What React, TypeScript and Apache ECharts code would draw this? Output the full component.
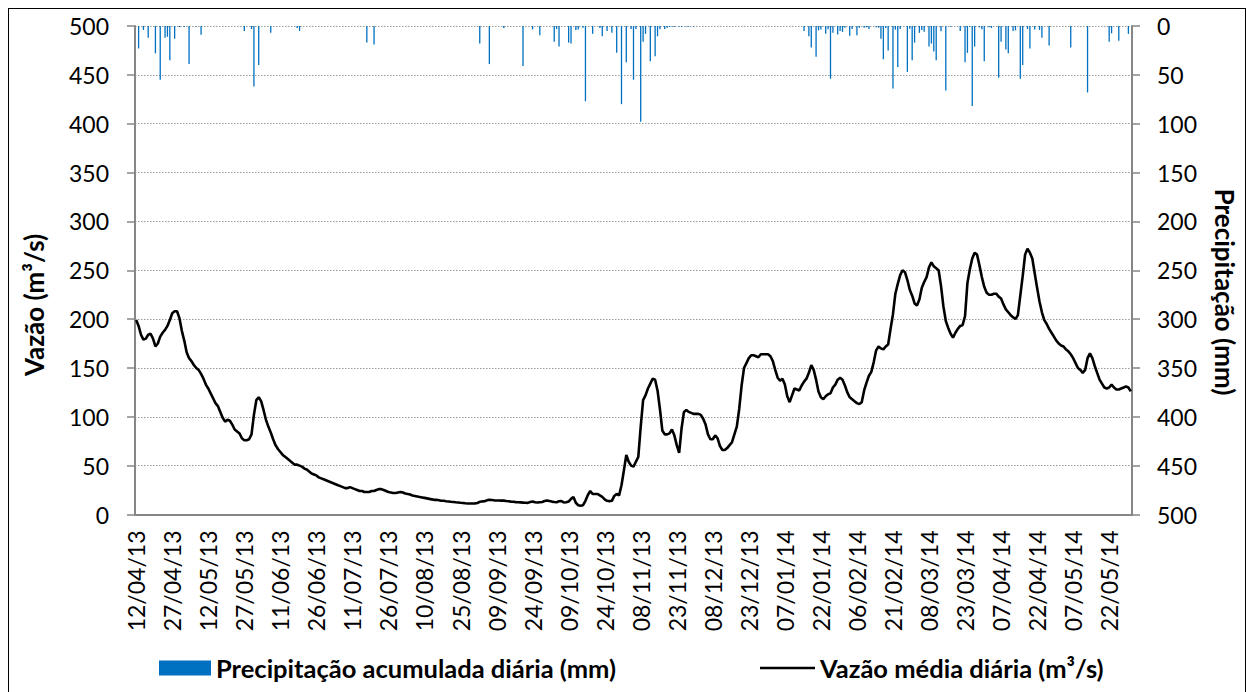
import React, { useEffect, useRef } from "react";
import * as echarts from "echarts";

// Daily series from 12/04/2013 to 31/05/2014 (415 days)
const START_DATE = Date.UTC(2013, 3, 12);
const DAY_COUNT = 415;

const P_NAME = "Precipitação acumulada diária (mm)";
const V_NAME = "Vazão média diária (m³/s)";

// Vazão média diária (m³/s) — one row per 15 days
const vazao: number[] = [
  199, 193, 184, 179, 180, 184, 185, 180, 172, 175, 182, 186, 189, 193, 199,
  206, 208, 208, 201, 188, 178, 166, 160, 157, 153, 150, 148, 144, 139, 133,
  129, 124, 119, 114, 111, 105, 99, 95, 97, 96, 92, 87, 85, 83, 78,
  76, 76, 77, 82, 102, 117, 120, 116, 107, 97, 90, 84, 77, 71, 67,
  64, 61, 59, 57, 55, 53, 51, 51, 50, 49, 47, 46, 44, 42, 41,
  40, 38, 37, 36, 35, 34, 33, 32, 31, 30, 29, 28, 27, 27, 28,
  27, 26, 25, 24, 24, 23, 23, 23, 24, 24, 25, 26, 26, 25, 24,
  23, 22.5, 22, 22, 22.5, 23, 22.5, 21.5, 21, 20.5, 19.5, 19, 18.5, 18, 17.5,
  17, 16.5, 16, 15.5, 15, 15, 14.5, 14, 14, 13.5, 13.3, 13, 12.8, 12.5, 12.3,
  12, 11.8, 11.5, 11.3, 11.2, 11.2, 11.4, 11.8, 13, 13.4, 13.5, 14.5, 15, 14.8, 14.5,
  14.3, 14.4, 14.2, 14.2, 13.8, 13.5, 13.2, 13, 12.7, 12.5, 12.4, 12.2, 12, 11.9, 12.8,
  13.3, 12.5, 12.2, 12.6, 12.8, 13.8, 14.3, 13.8, 13.2, 12.8, 12.6, 13.5, 13.8, 12.3, 12.5,
  13.3, 16, 18, 12, 9.5, 9, 9.5, 14, 20, 24, 21, 21, 21, 19.5, 18,
  15.5, 14, 13.7, 14, 19, 21, 19.5, 30, 45, 61, 54, 50, 49, 54, 59,
  90, 117, 122, 129, 134, 139, 138, 127, 108, 86, 82, 82, 83, 87, 81,
  71, 63, 88, 105, 107, 105, 104, 103, 103, 103, 102, 98, 92, 82, 77,
  77, 81, 78, 70, 66, 66, 68, 71, 74, 82, 90, 108, 132, 150, 155,
  160, 163, 163, 162, 161, 164, 164, 164, 164, 162, 157, 148, 140, 137, 139,
  133, 121, 115, 122, 129, 128, 127, 132, 136, 139, 145, 153, 148, 138, 126,
  120, 118, 121, 123, 124, 130, 133, 138, 140, 138, 132, 125, 120, 118, 116,
  114, 113, 115, 127, 135, 142, 146, 156, 168, 172, 170, 169, 172, 174, 190,
  205, 226, 236, 245, 250, 248, 240, 230, 224, 216, 214, 220, 232, 238, 243,
  253, 258, 254, 252, 250, 234, 213, 198, 191, 185, 181, 186, 190, 193, 194,
  203, 237, 251, 262, 268, 266, 255, 243, 233, 227, 225, 225, 226, 226, 223,
  221, 215, 210, 207, 204, 202, 200, 204, 224, 244, 266, 272, 268, 262, 247,
  232, 218, 207, 199, 195, 190, 186, 182, 178, 175, 173, 172, 169, 167, 164,
  160, 155, 150, 148, 145, 148, 160, 165, 160, 152, 145, 138, 134, 130, 129,
  130, 133, 130, 128, 128, 129, 130, 131, 130, 126,
];

// Precipitação acumulada diária (mm) — one row per 15 days
const precipitacao: number[] = [
  0, 23, 0, 4, 0, 12, 0, 0, 28, 0, 55, 0, 12, 11, 35,
  0, 13, 0, 1, 0, 1, 0, 39, 0, 0, 0.5, 0, 9, 0, 0,
  0, 0, 0, 0, 0, 0, 0, 0, 0, 0, 0, 0, 0, 0, 0,
  5, 0, 0, 3, 62, 0, 40, 0, 0, 0, 0, 7, 0, 0, 0,
  0, 0, 0, 0, 0, 0, 0, 2, 5, 0, 0, 0, 0, 0, 0,
  0, 0, 0, 0, 0, 0, 0, 0, 0, 0, 0, 0, 0, 0, 0,
  0, 0, 0, 0, 0, 0, 17, 0, 0, 19, 0, 0, 0, 0, 0,
  0, 0, 0, 0, 0, 0, 0, 0, 0, 0, 0, 0, 0, 0, 0,
  0, 0, 0, 0, 0, 0, 0, 0, 0, 0, 0, 0, 0, 0, 0,
  0, 0, 0, 0, 0, 0, 0, 0, 18, 0, 0, 0, 39, 0, 0,
  0, 0, 0, 2, 0, 0, 0, 0, 0, 0, 0, 41, 0, 0, 0,
  3.4, 0, 0, 9.5, 0, 0, 0, 0, 0, 16, 3, 21, 0, 0, 0,
  17, 18, 0, 4, 3.7, 0, 1.7, 77, 0, 0, 8, 0, 0, 2, 10.5,
  0, 5, 0, 7, 0, 27.5, 0, 80, 0, 37, 0, 3, 55, 3, 0,
  98, 16, 8, 0, 36, 0, 31, 10.5, 3.4, 0, 3, 1.7, 1, 0.5, 0.8,
  0, 0.6, 1, 0, 0.5, 0.8, 0, 0.5, 0, 0, 0, 0, 0, 0, 0,
  0, 0, 0, 0, 0, 0, 0, 0, 0, 0, 0, 0, 0, 0, 0,
  0, 0, 0, 0, 0, 0, 0, 0, 0, 0, 0, 0, 0, 0, 0,
  0, 0, 0, 0, 0, 0, 0, 0, 5, 0, 10.5, 22, 0, 31.6, 4.4,
  3.7, 0, 8, 3.4, 54, 7, 0, 8.8, 5, 6, 1.7, 0, 10, 3, 0,
  9.5, 1.7, 0, 1.7, 1.4, 3, 0, 0, 1.4, 1.7, 13, 34, 2, 25, 0,
  64, 3.7, 42, 3, 0, 0, 47, 2.7, 35, 17, 0, 7, 4, 6, 0,
  21, 18, 26, 35, 0, 5.4, 0, 66, 0, 0.7, 0, 0, 0, 5, 0,
  37, 27.5, 0.7, 82, 21, 0, 1.4, 3.4, 36, 0, 1.4, 2, 0, 0, 53,
  16, 0, 24, 28, 0, 5, 4.4, 0, 54, 40, 0, 3, 23, 0, 3.7,
  0, 4, 12, 0, 0, 20, 0, 0, 0, 0, 0, 0, 0, 0, 22,
  0, 0, 0, 0, 0, 0, 68, 0, 0, 0, 0, 0, 0, 0, 0,
  16, 7.5, 0, 0, 15, 0, 0, 0, 8, 0,
];

const pad = (n: number) => (n < 10 ? "0" + n : "" + n);
const categories: string[] = Array.from({ length: DAY_COUNT }, (_, i) => {
  const d = new Date(START_DATE + i * 86400000);
  return `${pad(d.getUTCDate())}/${pad(d.getUTCMonth() + 1)}/${pad(d.getUTCFullYear() % 100)}`;
});

const FONT = "Lato";
const AXIS_GRAY = "#868686";

export default function App() {
  const ref = useRef<HTMLDivElement>(null);

  useEffect(() => {
    if (!ref.current) return;
    const chart = echarts.init(ref.current, undefined, { renderer: "svg" });
    const labelStyle = { fontFamily: FONT, fontSize: 23, color: "#000" };
    const legendText = { fontFamily: FONT, fontSize: 25.5, fontWeight: "bold", color: "#000" };
    chart.setOption({
      animation: false,
      backgroundColor: "#fff",
      grid: { left: 126, top: 17, width: 997, height: 488.5, containLabel: false },
      legend: [
        {
          data: [{ name: P_NAME, icon: "rect" }],
          left: 150,
          top: 646,
          padding: 0,
          itemWidth: 52,
          itemHeight: 15,
          selectedMode: false,
          textStyle: legendText,
        },
        {
          data: [{ name: V_NAME, icon: "rect" }],
          left: 751,
          top: 646,
          padding: 0,
          itemWidth: 55,
          itemHeight: 2.5,
          selectedMode: false,
          textStyle: legendText,
        },
      ],
      xAxis: {
        type: "category",
        data: categories,
        boundaryGap: true,
        axisLine: { lineStyle: { color: AXIS_GRAY, width: 2 } },
        axisTick: { interval: 14, alignWithLabel: true, length: 7, lineStyle: { color: AXIS_GRAY, width: 1.5 } },
        axisLabel: { interval: 14, rotate: 90, margin: 16, ...labelStyle },
        splitLine: { show: false },
      },
      yAxis: [
        {
          type: "value",
          min: 0,
          max: 500,
          interval: 50,
          position: "left",
          axisLine: { show: true, lineStyle: { color: AXIS_GRAY, width: 2 } },
          axisTick: { show: true, length: 8, lineStyle: { color: AXIS_GRAY, width: 1.5 } },
          axisLabel: { margin: 26, ...labelStyle },
          splitLine: { show: true, lineStyle: { type: [1.5, 1.5], color: "#9a9a9a", width: 1 } },
        },
        {
          type: "value",
          min: 0,
          max: 500,
          interval: 50,
          inverse: true,
          position: "right",
          axisLine: { show: true, lineStyle: { color: AXIS_GRAY, width: 2 } },
          axisTick: { show: true, length: 8, lineStyle: { color: AXIS_GRAY, width: 1.5 } },
          axisLabel: { margin: 25, ...labelStyle },
          splitLine: { show: false },
        },
      ],
      series: [
        {
          name: P_NAME,
          type: "bar",
          yAxisIndex: 1,
          data: precipitacao,
          barWidth: 1.3,
          itemStyle: { color: "#0070C0" },
          z: 1,
        },
        {
          name: V_NAME,
          type: "line",
          yAxisIndex: 0,
          data: vazao,
          showSymbol: false,
          symbol: "none",
          lineStyle: { color: "#000", width: 2.6 },
          itemStyle: { color: "#000" },
          z: 3,
        },
      ],
      graphic: [
        {
          type: "text",
          x: 24.5,
          y: 296,
          rotation: Math.PI / 2,
          style: {
            text: "Vazão (m³/s)",
            fontFamily: FONT,
            fontSize: 26,
            fontWeight: "bold",
            fill: "#000",
            align: "center",
            verticalAlign: "middle",
          },
        },
        {
          type: "text",
          x: 1216,
          y: 283,
          rotation: -Math.PI / 2,
          style: {
            text: "Precipitação (mm)",
            fontFamily: FONT,
            fontSize: 26,
            fontWeight: "bold",
            fill: "#000",
            align: "center",
            verticalAlign: "middle",
          },
        },
      ],
    });
    return () => chart.dispose();
  }, []);

  return (
    <div
      style={{
        position: "fixed",
        left: 8,
        top: 8,
        width: 1238,
        height: 720,
        boxSizing: "border-box",
        border: "1px solid #000",
        background: "#fff",
      }}
    >
      <div ref={ref} style={{ width: 1236, height: 683 }} />
    </div>
  );
}
